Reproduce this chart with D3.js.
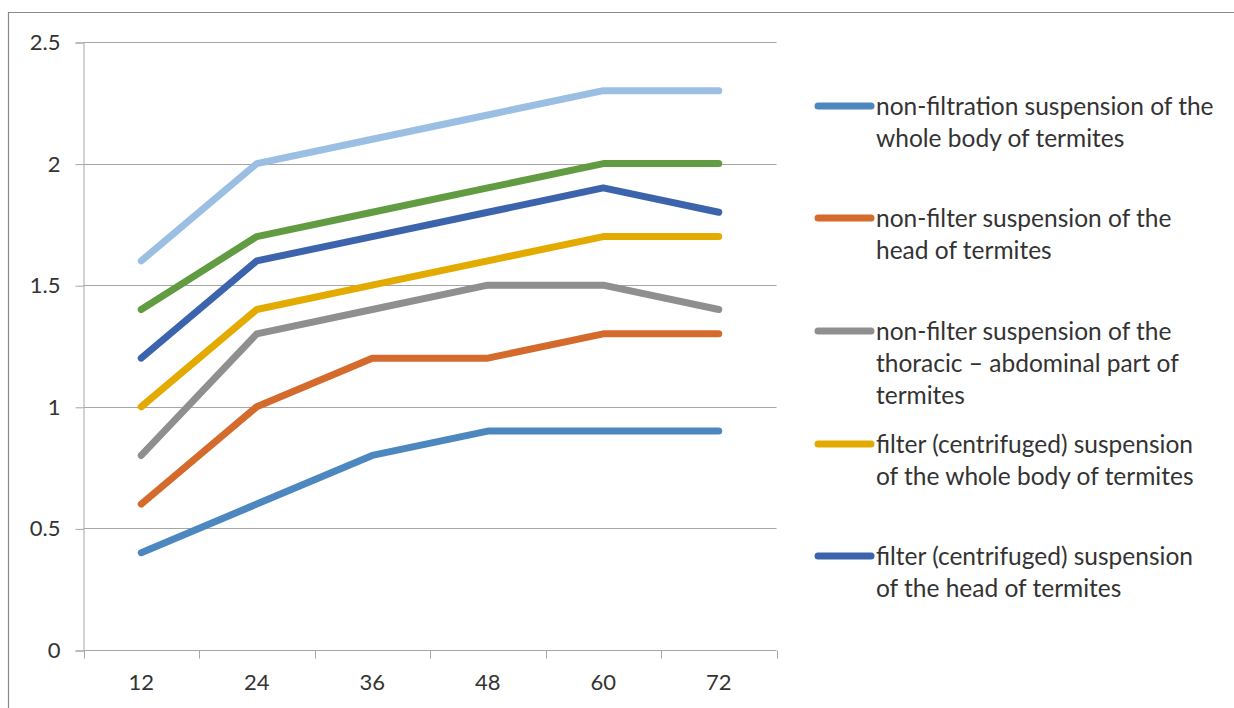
<!DOCTYPE html>
<html><head><meta charset="utf-8">
<script src="https://cdn.jsdelivr.net/npm/d3@7"></script>
<style>
html,body{margin:0;padding:0;background:#fff;}
svg text{font-family:"Lato","Open Sans",sans-serif;fill:#333;}
</style></head>
<body>
<svg id="chart" width="1234" height="708"></svg>
<script>
const categories = ["12","24","36","48","60","72"];
const yTicks = [0, 0.5, 1, 1.5, 2, 2.5];
const legendLines = [
  ["non-filtration suspension of the", "whole body of termites"],
  ["non-filter suspension of the", "head of termites"],
  ["non-filter suspension of the", "thoracic \u2013 abdominal part of", "termites"],
  ["filter (centrifuged) suspension", "of the whole body of termites"],
  ["filter (centrifuged) suspension", "of the head of termites"]
];
const s1 = [0.4, 0.6, 0.8, 0.9, 0.9, 0.9];
const s2 = [0.6, 1.0, 1.2, 1.2, 1.3, 1.3];
const s3 = [0.8, 1.3, 1.4, 1.5, 1.5, 1.4];
const s4 = [1.0, 1.4, 1.5, 1.6, 1.7, 1.7];
const s5 = [1.2, 1.6, 1.7, 1.8, 1.9, 1.8];
const s6 = [1.4, 1.7, 1.8, 1.9, 2.0, 2.0];
const s7 = [1.6, 2.0, 2.1, 2.2, 2.3, 2.3];
const colors = ["#4d87c0", "#d46a2c", "#8f8f8f", "#e3aa00", "#3c64ad", "#619c42", "#9bbfe3"];

(function () {
const allSeries = [s1, s2, s3, s4, s5, s6, s7];
const svg = d3.select("#chart");

svg.append("path").attr("d", "M8.5,708 L8.5,12.5 L1234,12.5")
  .attr("fill", "none").attr("stroke", "#8a8a8a").attr("stroke-width", 1.2);

const pl = 83.5, pr = 776.5, pt = 42, pb = 650;
const x = d3.scaleBand().domain(categories).range([pl, pr]);
const y = d3.scaleLinear().domain([0, 2.5]).range([pb, pt]);

svg.append("g").selectAll("line").data(yTicks.filter(d => d > 0)).join("line")
  .attr("x1", pl).attr("x2", pr)
  .attr("y1", d => Math.round(y(d)) + 0.5).attr("y2", d => Math.round(y(d)) + 0.5)
  .attr("stroke", "#a6a6a6").attr("stroke-width", 1);

const yAxis = svg.append("g").attr("transform", `translate(${pl},0.5)`)
  .call(d3.axisLeft(y).tickValues(yTicks).tickSize(8).tickPadding(15).tickFormat(d3.format("")));
yAxis.select(".domain").attr("stroke", "#a6a6a6");
yAxis.selectAll(".tick line").attr("stroke", "#a6a6a6");
yAxis.selectAll("text").attr("font-size", 22).attr("font-family", "Lato").attr("fill", "#333");

const xAxis = svg.append("g").attr("transform", `translate(0,${pb + 0.5})`)
  .call(d3.axisBottom(x).tickSize(0).tickPadding(24));
xAxis.select(".domain").attr("stroke", "#a6a6a6").attr("d", `M${pl},0H${pr}`);
xAxis.selectAll("text").attr("font-size", 22).attr("font-family", "Lato").attr("fill", "#333");
const bounds = categories.map(c => x(c)).concat([x(categories[categories.length - 1]) + x.bandwidth()]);
xAxis.append("g").selectAll("line").data(bounds).join("line")
  .attr("x1", d => Math.round(d) + 0.5).attr("x2", d => Math.round(d) + 0.5)
  .attr("y1", 0).attr("y2", 8).attr("stroke", "#a6a6a6");

const line = d3.line().x((d, i) => x(categories[i]) + x.bandwidth() / 2).y(d => y(d));
svg.append("g").selectAll("path").data(allSeries).join("path")
  .attr("d", d => line(d))
  .attr("fill", "none")
  .attr("stroke", (d, i) => colors[i])
  .attr("stroke-width", 7)
  .attr("stroke-linecap", "round")
  .attr("stroke-linejoin", "round");

const legendY = [106, 218, 331, 444, 556];
const lg = svg.append("g");
legendLines.forEach((lines, i) => {
  const g = lg.append("g");
  g.append("line").attr("x1", 818).attr("x2", 871)
    .attr("y1", legendY[i]).attr("y2", legendY[i])
    .attr("stroke", colors[i]).attr("stroke-width", 7).attr("stroke-linecap", "round");
  const t = g.append("text").attr("x", 876).attr("y", legendY[i])
    .attr("font-size", 24.5);
  lines.forEach((ln, k) => {
    t.append("tspan").attr("x", 876).attr("dy", k === 0 ? 8.5 : 32).text(ln);
  });
});
})();
</script>
</body></html>
